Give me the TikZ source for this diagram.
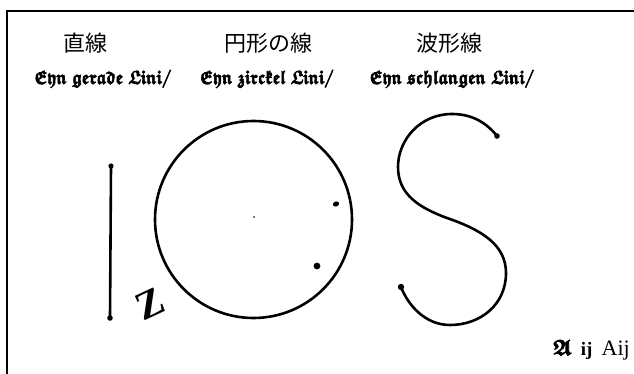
\documentclass[tikz,border=0pt]{standalone}
\usepackage{fontspec}
\usepackage{amssymb}
\setmainfont{Liberation Serif}
\newfontfamily\jpfont{Noto Sans CJK JP}
\newcommand\frkfont{\usefont{U}{euf}{b}{n}}
\newcommand\heavytext[1]{\special{pdf:literal direct 2 Tr 0.7 w}#1\special{pdf:literal direct 0 Tr}}
\begin{document}
\begin{tikzpicture}[x=1pt,y=-1pt,
  jp/.style={font=\jpfont\fontsize{22}{24}\selectfont, inner sep=0pt},
  de/.style={font=\frkfont\fontsize{19}{21}\selectfont, inner sep=0pt, xscale=0.84},
  ink/.style={line width=2.6pt, line cap=round},
  blob/.style={fill=black}]
\useasboundingbox (0,0) rectangle (634,374);
% frame
\draw[line width=1.6pt] (7,374) -- (7,11) -- (634,11);
% labels
\node[jp] (j1) at (85,43) {直線};
\node[jp] (j2) at (268,43) {円形の線};
\node[jp] (j3) at (449,43) {波形線};
\node[de] (d1) at (103,79) {\heavytext{Eyn gerade Lini/}};
\node[de] (d2) at (267,79) {\heavytext{Eyn zirckel Lini/}};
\node[de] (d3) at (452,79) {\heavytext{Eyn schlangen Lini/}};
% straight line
\coordinate (lt) at (111,166);
\coordinate (lb) at (110,318);
\draw[ink] (lt) -- (lb);
\fill[blob] (lt) circle (2.6);
\fill[blob] (lb) circle (2.8);
% circle
\coordinate (cc) at (253.5,219.5);
\draw[ink] (cc) circle (98.5);
\fill[blob] (254,217) circle (0.8);
\fill[blob, rotate around={25:(336,204)}] (336,204) ellipse (3.2 and 2.5);
\fill[blob] (317,266) circle (3.4);
% letter beside the line
\node[font=\bfseries\fontsize{40}{40}\selectfont, rotate=25, inner sep=0pt] (zz) at (150,304) {Z};
% S curve
\coordinate (s0) at (497,136);
\coordinate (s6) at (401,287);
\draw[ink] (s0) .. controls (485,121) and (470,114) .. (452,114)
  .. controls (420,114) and (398,140) .. (398,167)
  .. controls (398,195) and (420,208) .. (447,218)
  .. controls (482,230) and (506,245) .. (506,273)
  .. controls (506,305) and (480,325) .. (450,325)
  .. controls (425,325) and (408,305) .. (s6);
\fill[blob] (s0) circle (2.8);
\fill[blob] (s6) circle (3.2);
% bottom right
\node[anchor=base east, inner sep=0pt, font=\fontsize{22}{22}\selectfont] (sig) at (630,355)
  {{\frkfont\fontsize{22}{22}\selectfont\heavytext{A}}\, {\bfseries\fontsize{19}{19}\selectfont ij}\, Aij};
\end{tikzpicture}
\end{document}
